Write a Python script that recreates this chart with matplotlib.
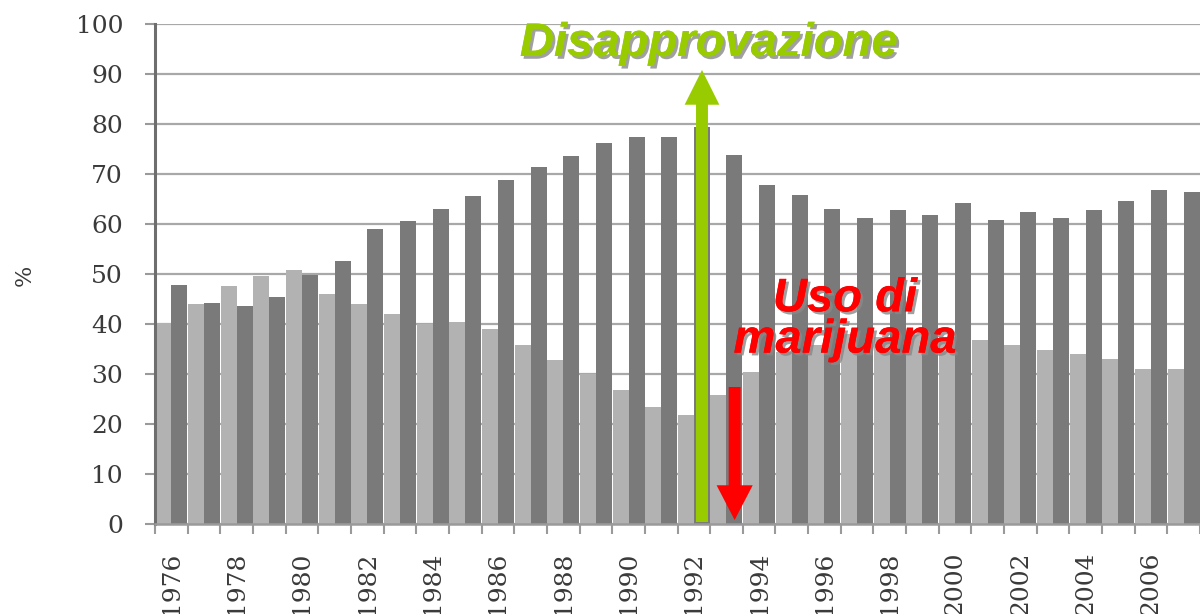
import numpy as np
import matplotlib
matplotlib.use("Agg")
import matplotlib.pyplot as plt
import matplotlib.patheffects as pe

# values (percent)
years = list(range(1976, 2008))
uso = [40.3, 44.1, 47.6, 49.6, 50.8, 46.1, 44.1, 42.0, 40.1, 40.5, 39.1, 35.8,
       32.8, 30.1, 26.8, 23.5, 21.8, 25.8, 30.5, 34.5, 35.8, 38.0, 37.5, 37.8,
       37.5, 36.8, 35.8, 34.8, 34.1, 33.1, 31.1, 31.1]
disapp = [47.8, 44.3, 43.6, 45.5, 49.8, 52.6, 59.1, 60.6, 63.1, 65.6, 68.9, 71.5,
          73.6, 76.3, 77.5, 77.5, 79.5, 73.8, 67.8, 65.8, 63.1, 61.3, 62.8, 61.8,
          64.3, 60.9, 62.5, 61.3, 62.9, 64.7, 66.9, 66.5]
yticks = list(range(0, 101, 10))

light = '#b2b2b2'
dark = '#7a7a7a'
green = '#99cc00'
red = '#ff0000'

fig = plt.figure(figsize=(12, 6.14), dpi=100)
ax = fig.add_axes([155/1200, 90/614, 1 - 155/1200, 500/614])

x = np.arange(len(years))
ax.bar(x - 0.245, uso, width=0.49, color=light, zorder=2)
ax.bar(x + 0.245, disapp, width=0.49, color=dark, zorder=2)

ax.set_xlim(-0.5, 31.32)
ax.set_ylim(0, 100)
ax.set_yticks(yticks)
ax.yaxis.grid(True, color='#a8a8a8', lw=1.6)
ax.set_axisbelow(True)

for s in ['top', 'right']:
    ax.spines[s].set_visible(False)
ax.spines['left'].set_color('#6e6e6e')
ax.spines['left'].set_linewidth(2.2)
ax.spines['bottom'].set_color('#9a9a9a')
ax.spines['bottom'].set_linewidth(1.8)

# year labels every other year, ticks at category borders
lab_idx = [i for i, y in enumerate(years) if y % 2 == 0]
ax.set_xticks(lab_idx)
ax.set_xticklabels([str(years[i]) for i in lab_idx], rotation=90,
                   family='DejaVu Serif', fontsize=18, color='#3a3a3a')
ax.tick_params(axis='x', which='major', length=0, pad=20)
ax.set_xticks(np.arange(len(years) + 1) - 0.5, minor=True)
ax.tick_params(axis='x', which='minor', length=7, width=1.5, color='#9a9a9a')
ax.tick_params(axis='y', length=7, width=1.5, color='#9a9a9a', pad=16)
for t in ax.get_yticklabels():
    t.set_family('DejaVu Serif')
    t.set_fontsize(18)
    t.set_color('#3a3a3a')

fig.text(25/1200, 1 - 275/614, '%', rotation=90, family='DejaVu Serif',
         fontsize=16, color='#3a3a3a', ha='center', va='center')

# arrows
i92 = years.index(1992)
i93 = years.index(1993)
ax.annotate('', xy=(i92 + 0.25, 90.8), xytext=(i92 + 0.25, 0.4),
            arrowprops=dict(arrowstyle='simple,head_length=25,head_width=25,tail_width=8.6',
                            mutation_scale=1, color=green, shrinkA=0, shrinkB=0, lw=0),
            annotation_clip=False, zorder=5)
ax.annotate('', xy=(i93 + 0.25, 0.8), xytext=(i93 + 0.25, 27.4),
            arrowprops=dict(arrowstyle='simple,head_length=25,head_width=26,tail_width=8.6',
                            mutation_scale=1, color=red, shrinkA=0, shrinkB=0, lw=0),
            annotation_clip=False, zorder=5)

shadow = [pe.withSimplePatchShadow(offset=(2, -2), shadow_rgbFace='#888888', alpha=0.8),
          pe.Normal()]
ax.text(16.46, 96.0, 'Disapprovazione', color=green, fontsize=34,
        family='Liberation Sans', weight='bold', style='italic',
        ha='center', va='center', path_effects=shadow, zorder=6, clip_on=False)
ax.text(20.63, 40.8, 'Uso di\nmarijuana', color=red, fontsize=34,
        family='Liberation Sans', weight='bold', style='italic',
        ha='center', va='center', linespacing=0.92, path_effects=shadow, zorder=6)

fig.savefig('out.png', dpi=100)
